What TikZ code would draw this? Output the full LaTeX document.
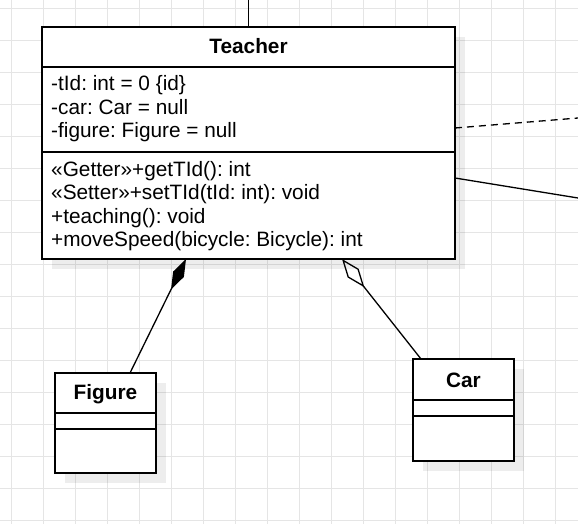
\documentclass[tikz,border=0pt]{standalone}
\usepackage{fontspec}
\setmainfont{Liberation Sans}
\usepackage{tikz}
\usetikzlibrary{positioning,calc,shadows,arrows.meta}
\frenchspacing

\begin{document}
\begin{tikzpicture}[
  x=1pt, y=-1pt,
  font=\fontsize{20.8}{23.6}\selectfont,
  gridline/.style={draw=black!10, line width=0.8pt},
  classbox/.style={rectangle,draw,line width=1.5pt,fill=white,inner sep=0pt,outer sep=0pt,anchor=north west,
    drop shadow={shadow xshift=10pt,shadow yshift=-10pt,fill=black,opacity=0.07}},
  classname/.style={font=\fontsize{20.8}{23.6}\selectfont\bfseries,anchor=base,inner sep=0pt},
  member/.style={anchor=base west,inner sep=0pt},
  sep/.style={line width=1.5pt},
  link/.style={line width=1.3pt},
]

% Canvas and grid
\useasboundingbox (0,0) rectangle (578,524);
\fill[white] (0,0) rectangle (578,524);
\draw[gridline,step=32pt,shift={(11pt,-8pt)}] (-11pt,8pt) grid (567pt,-516pt);

% Teacher
\node[classbox,minimum width=413pt,minimum height=232pt] (teacher) at (42,27) {};
\node[classname] (teachername) at (248.5,54) {Teacher};
\draw[sep] (42,67) -- (455,67);
\draw[sep] (42,152) -- (455,152);
\node[member] (attrid) at (51,91) {-tId: int = 0 \{id\}};
\node[member] (attrcar) at (51,114.5) {-car: Car = null};
\node[member] (attrfigure) at (51,138) {-figure: Figure = null};
\node[member] (opget) at (51,176) {«Getter»+getTId(): int};
\node[member] (opset) at (51,199.5) {«Setter»+setTId(tId: int): void};
\node[member] (opteach) at (51,223) {+teaching(): void};
\node[member] (opspeed) at (51,246.5) {+moveSpeed(bicycle: Bicycle): int};

% Figure
\node[classbox,minimum width=101pt,minimum height=100pt] (figure) at (55,373) {};
\node[classname] (figurename) at (105.5,399) {Figure};
\draw[sep] (55,413) -- (156,413);
\draw[sep] (55,429) -- (156,429);

% Car
\node[classbox,minimum width=101pt,minimum height=102pt] (car) at (413,359) {};
\node[classname] (carname) at (463.5,387) {Car};
\draw[sep] (413,400) -- (514,400);
\draw[sep] (413,416) -- (514,416);

% Loose ends
\coordinate (topend) at (248.5,0);
\coordinate (depend) at (578,118);
\coordinate (assocend) at (578,198);

% Relations
\draw[link] (topend) -- (teacher.north);
\draw[link,dash pattern=on 7pt off 5pt] ($(teacher.north east)+(0,101)$) -- (depend);
\draw[link] ($(teacher.north east)+(0,151)$) -- (assocend);
\draw[link,{Diamond[length=34pt,width=12pt]}-] ($(teacher.south west)+(144,0)$) -- ($(figure.north)+(24.5,0)$);
\draw[link,{Diamond[open,length=36pt,width=14pt]}-] ($(teacher.south west)+(300,0)$) -- ($(car.north)+(-42.5,0)$);

\end{tikzpicture}
\end{document}
